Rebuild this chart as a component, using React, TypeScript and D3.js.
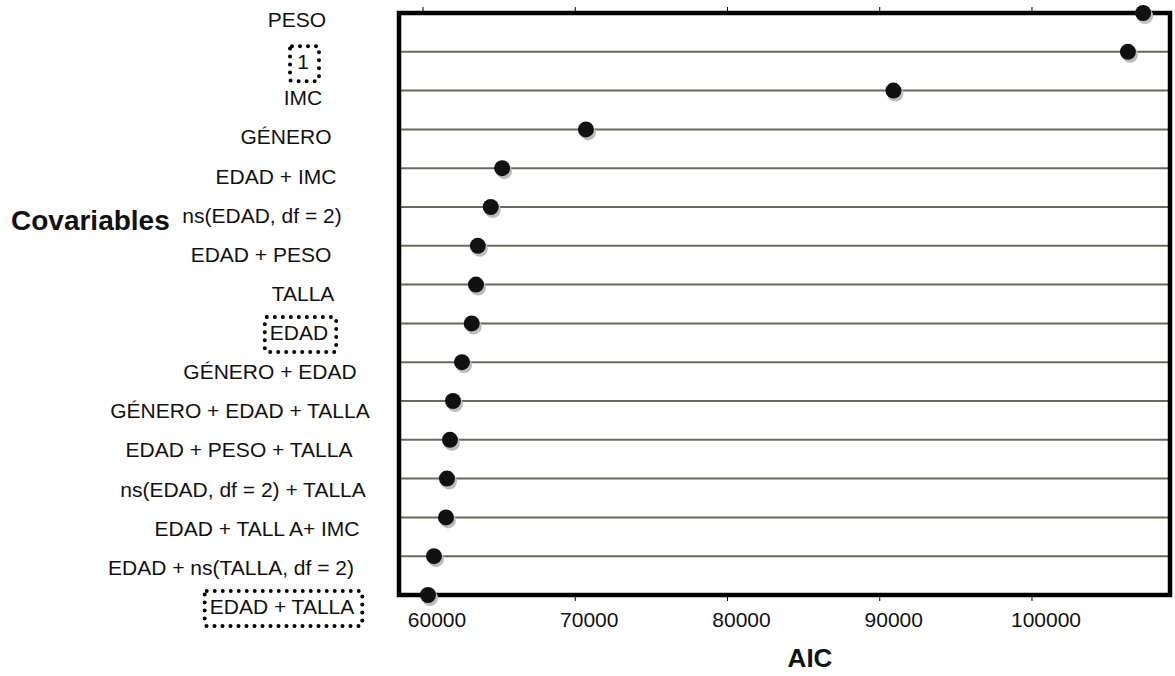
import React, { useEffect, useRef } from 'react';
import * as d3 from 'd3';

// covariate sets, top to bottom
const covariates = [
  'PESO',
  '1',
  'IMC',
  'GÉNERO',
  'EDAD + IMC',
  'ns(EDAD, df = 2)',
  'EDAD + PESO',
  'TALLA',
  'EDAD',
  'GÉNERO + EDAD',
  'GÉNERO + EDAD + TALLA',
  'EDAD + PESO + TALLA',
  'ns(EDAD, df = 2) + TALLA',
  'EDAD + TALL A+ IMC',
  'EDAD + ns(TALLA, df = 2)',
  'EDAD + TALLA',
];

// AIC for each model
const aicValues = [
  107300, 106300, 90900, 70700, 65200, 64450, 63600, 63480,
  63200, 62560, 61970, 61770, 61575, 61510, 60720, 60330,
];

// models marked with a dotted box
const boxed = ['1', 'EDAD', 'EDAD + TALLA'];

const xTicks = [60000, 70000, 80000, 90000, 100000];

// horizontal centre of each left label (the labels are not aligned)
const labelCenters = [297, 303, 303, 286, 276, 262, 261, 303, 299, 270, 240, 239, 243, 257, 231, 282];

const App: React.FC = () => {
  const ref = useRef<SVGSVGElement>(null);

  useEffect(() => {
    const svg = d3.select(ref.current);
    svg.selectAll('*').remove();

    const left = 399;
    const right = 1170;
    const top = 13;
    const bottom = 595;
    const font = 'Liberation Sans, Arial, Helvetica, sans-serif';

    const x = d3.scaleLinear().domain([58424, 109064]).range([left, right]);
    const y = d3.scalePoint<string>().domain(covariates).range([top, bottom]);
    // label baselines run on a slightly wider spacing than the rows
    const yLab = d3.scalePoint<string>().domain(covariates).range([27, 614]);

    // grid lines for inner rows
    svg
      .append('g')
      .selectAll('line')
      .data(covariates.slice(1, -1))
      .join('line')
      .attr('x1', left)
      .attr('x2', right)
      .attr('y1', d => y(d)!)
      .attr('y2', d => y(d)!)
      .attr('stroke', '#68685e')
      .attr('stroke-width', 2);

    // ticks top and bottom
    const ticks = svg.append('g');
    xTicks.forEach(t => {
      ticks.append('line')
        .attr('x1', x(t)).attr('x2', x(t))
        .attr('y1', top - 6).attr('y2', top)
        .attr('stroke', '#000').attr('stroke-width', 1);
      ticks.append('line')
        .attr('x1', x(t)).attr('x2', x(t))
        .attr('y1', bottom).attr('y2', bottom + 6)
        .attr('stroke', '#000').attr('stroke-width', 1);
      ticks.append('text')
        .attr('x', x(t) + 14)
        .attr('y', 627)
        .attr('text-anchor', 'middle')
        .attr('font-family', font)
        .attr('font-size', 21)
        .attr('fill', '#111')
        .text(t);
    });

    // frame
    svg.append('rect')
      .attr('x', left).attr('y', top)
      .attr('width', right - left).attr('height', bottom - top)
      .attr('fill', 'none')
      .attr('stroke', '#000')
      .attr('stroke-width', 4.5);

    // points with a grey shadow
    const pts = covariates.map((c, i) => ({ c, v: aicValues[i] }));
    svg.append('g')
      .selectAll('circle')
      .data(pts)
      .join('circle')
      .attr('cx', d => x(d.v) + 2)
      .attr('cy', d => y(d.c)! + 3)
      .attr('r', 8)
      .attr('fill', '#bdbdbd');
    svg.append('g')
      .selectAll('circle')
      .data(pts)
      .join('circle')
      .attr('cx', d => x(d.v))
      .attr('cy', d => y(d.c)!)
      .attr('r', 8)
      .attr('fill', '#111');

    // left labels
    const labels = svg.append('g');
    covariates.forEach((c, i) => {
      const ty = yLab(c)! + (c === '1' ? 3 : 0);
      const t = labels.append('text')
        .attr('x', labelCenters[i])
        .attr('y', ty)
        .attr('text-anchor', 'middle')
        .attr('font-family', font)
        .attr('font-size', 21)
        .attr('fill', '#111')
        .text(c);
      if (boxed.includes(c)) {
        const bb = (t.node() as SVGTextElement).getBBox();
        const w = Math.max(bb.width + 13, 29);
        const cx = bb.x + bb.width / 2 + 1.5;
        labels.append('rect')
          .attr('x', cx - w / 2)
          .attr('y', ty - 23)
          .attr('width', w)
          .attr('height', 35)
          .attr('rx', 2)
          .attr('fill', 'none')
          .attr('stroke', '#000')
          .attr('stroke-width', 4)
          .attr('stroke-linecap', 'round')
          .attr('stroke-dasharray', '0 8');
      }
    });

    // axis titles
    svg.append('text')
      .attr('x', 11)
      .attr('y', 230)
      .attr('font-family', font)
      .attr('font-size', 28)
      .attr('font-weight', 'bold')
      .attr('fill', '#111')
      .text('Covariables');

    svg.append('text')
      .attr('x', 810)
      .attr('y', 667)
      .attr('text-anchor', 'middle')
      .attr('font-family', font)
      .attr('font-size', 26)
      .attr('font-weight', 'bold')
      .attr('fill', '#111')
      .text('AIC');
  }, []);

  return (
    <svg
      ref={ref}
      width={1175}
      height={676}
      style={{ position: 'absolute', left: 0, top: 0, background: '#fff' }}
    />
  );
};

export default App;
